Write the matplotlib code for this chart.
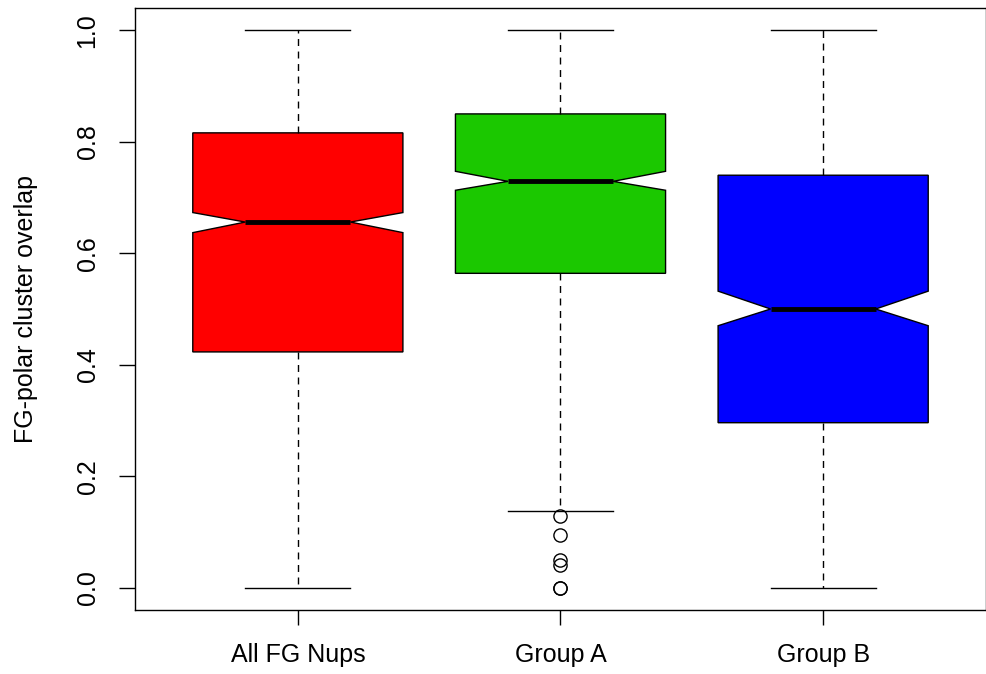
import matplotlib
matplotlib.use("Agg")
import matplotlib.pyplot as plt

plt.rcParams['font.family'] = ['Liberation Sans', 'DejaVu Sans']

categories = ['All FG Nups', 'Group A', 'Group B']
q1 = [0.423, 0.564, 0.296]
med = [0.656, 0.729, 0.500]
q3 = [0.816, 0.850, 0.740]
notch_lo = [0.637, 0.713, 0.470]
notch_hi = [0.673, 0.747, 0.532]
whisk_lo = [0.0, 0.138, 0.0]
whisk_hi = [1.0, 1.0, 1.0]
fliers = [[], [0.129, 0.095, 0.050, 0.041, 0.0, 0.0], []]
colors = ['#FF0000', '#1BC800', '#0000FF']
yticks = [0.0, 0.2, 0.4, 0.6, 0.8, 1.0]
ytick_labels = ['0.0', '0.2', '0.4', '0.6', '0.8', '1.0']

stats = []
for i, name in enumerate(categories):
    stats.append(dict(label=name, med=med[i], q1=q1[i], q3=q3[i],
                      cilo=notch_lo[i], cihi=notch_hi[i],
                      whislo=whisk_lo[i], whishi=whisk_hi[i],
                      fliers=fliers[i]))

fig = plt.figure(figsize=(9.87, 6.74), dpi=100)
ax = fig.add_axes([135/987, 1-610/674, (986-135)/987, (610-8)/674])

positions = [1, 2, 3]
bp = ax.bxp(stats, positions=positions, widths=0.8, shownotches=True,
            patch_artist=True,
            boxprops=dict(edgecolor='black', linewidth=1.0),
            medianprops=dict(color='black', linewidth=3.5, solid_capstyle='butt'),
            whiskerprops=dict(color='black', linewidth=1.0, linestyle=(0, (5, 4))),
            capprops=dict(color='black', linewidth=1.0),
            flierprops=dict(marker='o', markerfacecolor='none', markeredgecolor='black',
                            markersize=9.5, markeredgewidth=1.0, linestyle='none'))
for patch, c in zip(bp['boxes'], colors):
    patch.set_facecolor(c)

ax.set_xlim(0.38, 3.62)
ax.set_ylim(-0.04, 1.04)
ax.set_xticks(positions)
ax.set_xticklabels(categories, fontsize=18)
ax.set_yticks(yticks)
ax.set_yticklabels(ytick_labels, fontsize=18, rotation=90, va='center')
ax.tick_params(axis='x', length=11, width=1, pad=13)
ax.tick_params(axis='y', length=11.5, width=1, pad=14)
ax.set_ylabel('FG-polar cluster overlap', fontsize=18, labelpad=27)
for s in ax.spines.values():
    s.set_linewidth(1.0)
    s.set_color('black')

fig.savefig('out.png', dpi=100)
